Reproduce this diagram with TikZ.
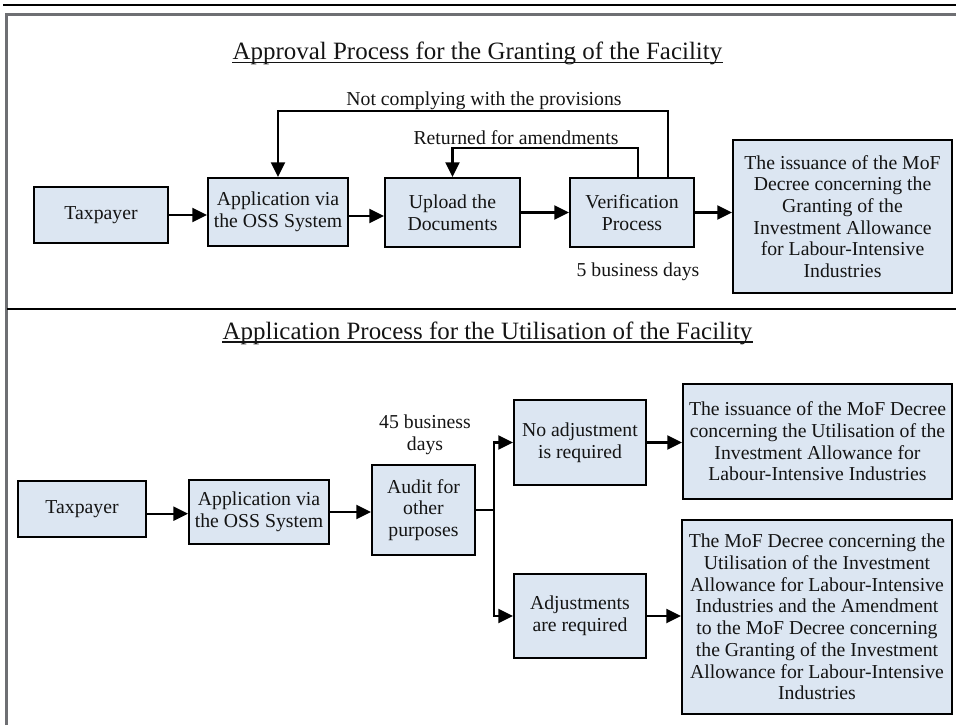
\documentclass[tikz,border=0pt]{standalone}
\usepackage{fontspec}
\setmainfont{Liberation Serif}
\usetikzlibrary{arrows.meta,calc}
\definecolor{boxfill}{HTML}{DCE6F2}
\definecolor{framegray}{HTML}{6E6F73}
\definecolor{ink}{HTML}{141414}
\begin{document}
\begin{tikzpicture}[x=0.75pt,y=-0.75pt,
  box/.style={draw=black, fill=boxfill, line width=1.8pt, inner sep=0pt,
    align=center, text=ink, font=\fontsize{14.8}{16.3}\selectfont},
  lbl/.style={inner sep=0pt, text=ink, align=center, font=\fontsize{14.8}{16.3}\selectfont},
  heading/.style={inner sep=0pt, text=ink, font=\fontsize{18.7}{22}\selectfont},
  conn/.style={line width=1.7pt, draw=black},
  arr/.style={conn, -{Triangle[length=11pt,width=10.5pt]}},
  uline/.style={line width=1.1pt, draw=ink}]
\useasboundingbox (0,0) rectangle (956,725);

% page rules and frame
\draw[line width=1.5pt] (3,5) -- (956,5);
\draw[framegray, line width=2.2pt] (6.5,725) -- (6.5,14.5) -- (956,14.5);
\draw[line width=1.6pt] (7,309) -- (956,309);

% ---------- approval process ----------
\node[heading, anchor=base] (ttop) at (477.5,59.5) {Approval Process for the Granting of the Facility};
\draw[uline] ([yshift=-2.2pt]ttop.base west) -- ([yshift=-2.2pt]ttop.base east);

\node[box, minimum width=100.2pt, minimum height=41.7pt] (t1) at (101,215) {Taxpayer};
\node[box, minimum width=104.7pt, minimum height=50.7pt] (t2) at (278,212) {Application via\\the OSS System};
\node[box, minimum width=100.95pt, minimum height=51.45pt] (t3) at (452.5,212.5) {Upload the\\Documents};
\node[box, minimum width=92.7pt, minimum height=51.45pt] (t4) at (632,212.5) {Verification\\Process};
\node[box, minimum width=163.95pt, minimum height=114.45pt] (t5) at (842.5,216.5)
  {The issuance of the MoF\\Decree concerning the\\Granting of the\\Investment Allowance\\for Labour-Intensive\\Industries};

\draw[arr] (t1.east) -- (t1.east -| t2.west);
\draw[arr] ([yshift=-3pt]t2.east) -- ([yshift=-3pt]t2.east -| t3.west);
\draw[arr] (t3.east) -- (t3.east -| t4.west);
\draw[arr] (t4.east) -- (t4.east -| t5.west);

% feedback loops
\draw[arr] ($(t4.north)+(36,0)$) |- ($(t2.north)+(0,-66)$) -- (t2.north);
\draw[arr] ($(t4.north)+(6,0)$) |- ($(t3.north)+(0,-29)$) -- (t3.north);

\node[lbl, anchor=base] (lnc) at (484,105.5) {Not complying with the provisions};
\node[lbl, anchor=base] (lra) at (516,144.5) {Returned for amendments};
\node[lbl, anchor=base] (l5) at (638,276.5) {5 business days};

% ---------- utilisation process ----------
\node[heading, anchor=base] (tbot) at (487.5,339) {Application Process for the Utilisation of the Facility};
\draw[uline] ([yshift=-2.2pt]tbot.base west) -- ([yshift=-2.2pt]tbot.base east);

\node[box, minimum width=95.7pt, minimum height=41.7pt] (b1) at (82,509) {Taxpayer};
\node[box, minimum width=104.7pt, minimum height=47.7pt] (b2) at (259,512) {Application via\\the OSS System};
\node[box, minimum width=76.95pt, minimum height=67.2pt] (b3) at (423.5,510) {Audit for\\other\\purposes};
\node[box, minimum width=98.7pt, minimum height=63.45pt] (b4) at (580,442.5) {No adjustment\\is required};
\node[box, minimum width=98.7pt, minimum height=62.7pt] (b5) at (580,616) {Adjustments\\are required};
\node[box, minimum width=201.45pt, minimum height=85.95pt] (b6) at (817.5,441.5)
  {The issuance of the MoF Decree\\concerning the Utilisation of the\\Investment Allowance for\\Labour-Intensive Industries};
\node[box, minimum width=202.2pt, minimum height=145.2pt] (b7) at (817,617)
  {The MoF Decree concerning the\\Utilisation of the Investment\\Allowance for Labour-Intensive\\Industries and the Amendment\\to the MoF Decree concerning\\the Granting of the Investment\\Allowance for Labour-Intensive\\Industries};

\node[lbl] (l45) at (425,435) {45 business\\days};

\coordinate (split) at (494,510);
\draw[arr] ([yshift=-3.5pt]b1.east) -- ([yshift=-3.5pt]b1.east -| b2.west);
\draw[arr] (b2.east) -- (b2.east -| b3.west);
\draw[conn] (b3.east) -- (split);
\draw[arr] (split) |- (b4.west);
\draw[arr] (split) |- (b5.west);
\draw[arr] (b4.east) -- (b4.east -| b6.west);
\draw[arr] (b5.east) -- (b5.east -| b7.west);
\end{tikzpicture}
\end{document}
